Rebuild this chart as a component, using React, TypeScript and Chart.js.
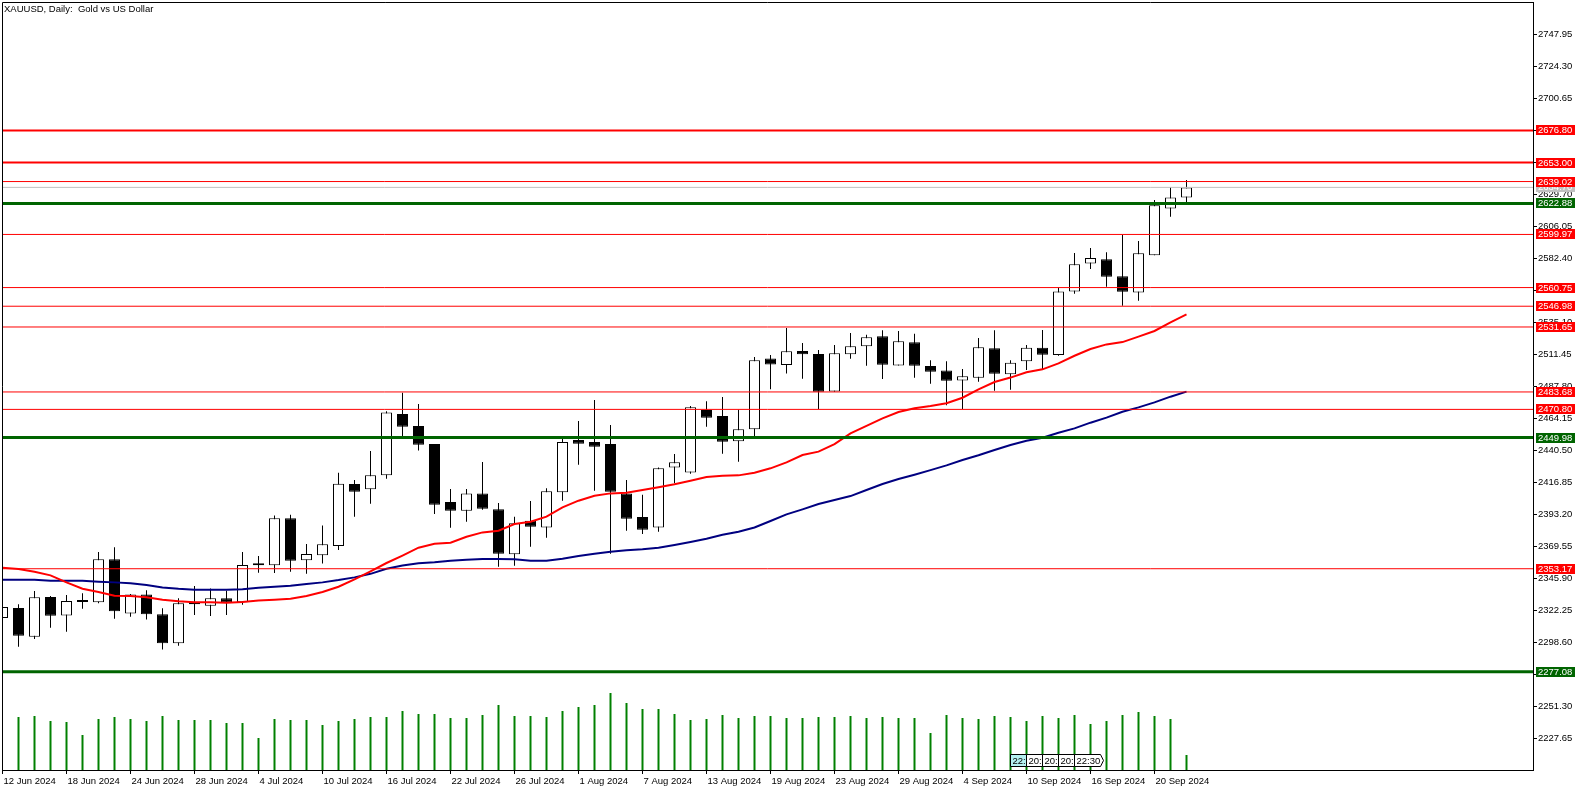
import React, { useEffect, useRef } from "react";
import { Chart, registerables } from "chart.js";

Chart.register(...registerables);

// ---------- data ----------
const dates = [
  "12 Jun", "13 Jun", "14 Jun", "17 Jun", "18 Jun", "19 Jun", "20 Jun", "21 Jun", "24 Jun", "25 Jun", "26 Jun", "27 Jun", "28 Jun",
  "1 Jul", "2 Jul", "3 Jul", "4 Jul", "5 Jul", "8 Jul", "9 Jul", "10 Jul", "11 Jul", "12 Jul", "15 Jul", "16 Jul", "17 Jul", "18 Jul", "19 Jul",
  "22 Jul", "23 Jul", "24 Jul", "25 Jul", "26 Jul", "29 Jul", "30 Jul", "31 Jul",
  "1 Aug", "2 Aug", "5 Aug", "6 Aug", "7 Aug", "8 Aug", "9 Aug", "12 Aug", "13 Aug", "14 Aug", "15 Aug", "16 Aug", "19 Aug", "20 Aug",
  "21 Aug", "22 Aug", "23 Aug", "26 Aug", "27 Aug", "28 Aug", "29 Aug", "30 Aug",
  "2 Sep", "3 Sep", "4 Sep", "5 Sep", "6 Sep", "9 Sep", "10 Sep", "11 Sep", "12 Sep", "13 Sep", "16 Sep", "17 Sep", "18 Sep", "19 Sep",
  "20 Sep", "23 Sep", "24 Sep",
];

const opens = [
  2316.8, 2324.1, 2303.0, 2332.3, 2318.7, 2328.6, 2328.4, 2360.2, 2320.2, 2334.2,
  2319.5, 2298.1, 2327.0, 2325.9, 2331.3, 2328.4, 2355.7, 2355.7, 2390.5, 2359.4,
  2363.1, 2370.0, 2415.7, 2411.8, 2422.1, 2467.4, 2458.5, 2445.2, 2402.4, 2396.0,
  2408.8, 2397.0, 2363.8, 2388.6, 2383.7, 2409.6, 2448.2, 2446.7, 2445.2, 2408.8,
  2391.3, 2383.7, 2428.0, 2424.3, 2470.3, 2465.9, 2447.2, 2456.1, 2508.3, 2503.6,
  2513.9, 2511.7, 2484.1, 2511.5, 2517.4, 2524.8, 2503.3, 2520.3, 2502.8, 2499.6,
  2492.2, 2494.2, 2515.9, 2496.7, 2506.3, 2516.3, 2511.0, 2557.9, 2578.6, 2581.6,
  2569.1, 2557.2, 2584.6, 2619.2, 2627.3,
];
const highs = [
  2328.0, 2327.0, 2336.7, 2333.0, 2333.8, 2335.0, 2365.5, 2369.0, 2334.5, 2337.2,
  2324.0, 2331.3, 2340.4, 2338.6, 2337.0, 2365.5, 2362.5, 2392.5, 2393.0, 2371.4,
  2385.0, 2424.0, 2418.6, 2440.0, 2469.4, 2483.1, 2474.8, 2445.2, 2412.0, 2412.0,
  2431.9, 2401.7, 2391.6, 2403.2, 2412.5, 2449.7, 2462.2, 2477.7, 2459.3, 2418.6,
  2407.8, 2428.0, 2437.8, 2473.3, 2476.9, 2479.9, 2470.6, 2509.5, 2510.9, 2530.9,
  2519.8, 2514.6, 2518.3, 2527.2, 2526.0, 2529.2, 2528.7, 2526.7, 2507.0, 2506.3,
  2500.6, 2523.5, 2529.2, 2507.0, 2518.3, 2529.4, 2560.7, 2586.2, 2589.9, 2586.8,
  2599.5, 2595.1, 2625.4, 2635.0, 2640.2,
];
const lows = [
  2313.0, 2295.6, 2301.3, 2309.6, 2306.6, 2323.6, 2327.6, 2316.3, 2317.7, 2315.6,
  2293.5, 2296.3, 2319.0, 2318.2, 2319.0, 2326.6, 2350.2, 2350.0, 2350.9, 2349.5,
  2357.0, 2367.0, 2391.6, 2401.1, 2419.6, 2451.1, 2440.5, 2393.6, 2383.4, 2387.9,
  2396.7, 2354.6, 2355.4, 2369.4, 2376.0, 2403.4, 2430.0, 2410.8, 2364.2, 2381.2,
  2378.8, 2380.5, 2416.2, 2423.3, 2458.0, 2438.1, 2432.2, 2450.6, 2485.6, 2497.4,
  2493.5, 2471.1, 2483.8, 2508.2, 2503.1, 2493.2, 2503.3, 2494.2, 2489.8, 2473.8,
  2471.1, 2491.2, 2484.6, 2485.3, 2499.9, 2500.7, 2510.4, 2556.2, 2574.4, 2561.4,
  2547.4, 2551.0, 2584.6, 2613.0, 2623.7,
];
const closes = [
  2324.9, 2303.7, 2332.1, 2318.5, 2329.3, 2329.4, 2360.2, 2321.7, 2334.2, 2319.5,
  2298.1, 2327.6, 2327.2, 2331.3, 2328.4, 2355.9, 2357.2, 2390.5, 2359.1, 2364.0,
  2371.2, 2416.0, 2410.0, 2422.1, 2468.6, 2458.0, 2444.7, 2400.4, 2396.0, 2408.8,
  2397.5, 2364.2, 2386.7, 2384.2, 2410.3, 2446.7, 2445.4, 2443.2, 2410.0, 2390.1,
  2382.0, 2427.3, 2431.7, 2472.3, 2464.6, 2447.0, 2456.1, 2507.0, 2503.9, 2513.7,
  2511.5, 2483.8, 2512.2, 2517.4, 2524.0, 2503.8, 2521.1, 2503.0, 2498.6, 2492.0,
  2495.2, 2516.6, 2497.1, 2505.3, 2516.3, 2511.2, 2557.9, 2577.9, 2582.6, 2568.8,
  2557.7, 2586.0, 2621.5, 2627.3, 2634.7,
];
// tick volume (thousands)
const volumes = [
  null, 53, 54, 49, 48, 35, 51, 53, 51, 49,
  54, 50, 50, 50, 47, 47, 32, 51, 50, 50,
  45, 49, 51, 53, 53, 59, 56, 56, 52, 52,
  55, 65, 54, 54, 53, 59, 63, 65, 77, 67,
  61, 61, 56, 50, 51, 55, 52, 54, 54, 52,
  52, 53, 53, 54, 52, 53, 52, 52, 37, 55,
  52, 51, 54, 53, 49, 54, 52, 55, 46, 49,
  55, 58, 54, 51, 15,
];
const maFast = [
  2353.9, 2352.9, 2350.9, 2348.3, 2343.1, 2338.4, 2336.0, 2333.2, 2333.0, 2332.1,
  2330.3, 2329.1, 2328.4, 2328.4, 2328.1, 2328.6, 2329.8, 2330.3, 2331.0, 2333.0,
  2336.0, 2339.9, 2345.3, 2351.3, 2357.4, 2362.9, 2368.7, 2371.6, 2372.4, 2376.8,
  2380.0, 2381.2, 2386.2, 2387.9, 2391.6, 2398.5, 2403.4, 2407.1, 2408.8, 2409.3,
  2411.3, 2413.3, 2415.5, 2418.1, 2420.9, 2421.8, 2422.1, 2424.0, 2427.3, 2431.7,
  2437.1, 2439.6, 2445.2, 2453.1, 2458.7, 2464.2, 2468.9, 2471.6, 2473.3, 2475.3,
  2479.4, 2485.6, 2491.0, 2494.3, 2498.2, 2500.4, 2504.8, 2510.4, 2515.4, 2518.8,
  2520.5, 2524.5, 2528.7, 2535.1, 2541.0,
];
const maSlow = [
  2345.0, 2345.0, 2345.0, 2344.3, 2344.3, 2344.3, 2343.6, 2343.1, 2342.4, 2341.1,
  2339.4, 2338.4, 2337.7, 2337.7, 2337.7, 2338.0, 2339.1, 2339.9, 2340.6, 2341.9,
  2343.1, 2344.8, 2346.8, 2349.4, 2353.1, 2355.5, 2357.2, 2357.9, 2359.1, 2359.8,
  2360.3, 2360.3, 2360.1, 2359.1, 2359.1, 2360.6, 2362.5, 2364.2, 2365.7, 2366.8,
  2367.5, 2368.7, 2370.7, 2372.9, 2375.3, 2378.3, 2380.5, 2383.6, 2388.4, 2393.3,
  2397.0, 2400.9, 2403.9, 2406.8, 2411.3, 2415.7, 2419.4, 2422.6, 2426.0, 2429.5,
  2433.4, 2436.9, 2440.8, 2444.5, 2447.7, 2449.9, 2453.6, 2456.8, 2461.0, 2464.7,
  2469.1, 2472.3, 2476.0, 2480.2, 2483.9,
];

const thickRedLevels = [2676.8, 2653.0];
const thinRedLevels = [2639.02, 2599.97, 2560.75, 2546.98, 2531.65, 2483.68, 2470.8, 2353.17];
const greenLevels = [2622.88, 2449.98, 2277.08];
const bidPrice = 2634.7;

const yTickLabels = [
  "2747.95", "2724.30", "2700.65", "2677.00", "2653.35", "2629.70", "2606.05", "2582.40",
  "2558.75", "2535.10", "2511.45", "2487.80", "2464.15", "2440.50", "2416.85", "2393.20",
  "2369.55", "2345.90", "2322.25", "2298.60", "2274.95", "2251.30", "2227.65",
];
const xTickIndex = [0, 4, 8, 12, 16, 20, 24, 28, 32, 36, 40, 44, 48, 52, 56, 60, 64, 68, 72];
const timeMarks = ["22:", "20:", "20:", "20:", "22:30"];
const timeMarkStart = 63;
const title = "XAUUSD, Daily:  Gold vs US Dollar";

// ---------- view constants ----------
const W = 1586;
const H = 791;
const X_MIN = -0.03125;
const X_MAX = 95.65625;
const Y_MIN = 2204.58;
const Y_MAX = 2771.58;
const FONT_FAMILY = "'Liberation Sans', Arial, sans-serif";
const FONT_SIZE = 9.5;
const RED = "#ff0000";
const GREEN = "#006400";

export default function App() {
  const ref = useRef<HTMLCanvasElement | null>(null);

  useEffect(() => {
    document.body.style.margin = "0";
    const canvas = ref.current;
    if (!canvas) return;

    const idx = dates.map((_, i) => i);
    const bodyColors = idx.map((i) => (closes[i] >= opens[i] ? "#ffffff" : "#000000"));

    const levelLine = (v: number, color: string, width: number, order: number) => ({
      type: "line" as const,
      data: [
        { x: X_MIN, y: v },
        { x: X_MAX, y: v },
      ],
      borderColor: color,
      borderWidth: width,
      pointRadius: 0,
      yAxisID: "y",
      order,
    });

    const overlay = {
      id: "overlay",
      afterDraw(chart: any) {
        const { ctx, chartArea, scales } = chart;
        const ys = scales.y;
        const xs = scales.x;
        ctx.save();
        // frame (left / top)
        ctx.strokeStyle = "#000";
        ctx.lineWidth = 1;
        ctx.beginPath();
        ctx.moveTo(chartArea.left + 0.5, chartArea.bottom);
        ctx.lineTo(chartArea.left + 0.5, chartArea.top + 0.5);
        ctx.lineTo(chartArea.right, chartArea.top + 0.5);
        ctx.stroke();

        ctx.font = `${FONT_SIZE}px ${FONT_FAMILY}`;
        // title
        ctx.fillStyle = "#000";
        ctx.textAlign = "left";
        ctx.textBaseline = "alphabetic";
        ctx.fillText(title, chartArea.left + 2, 12);

        // price tags
        const tag = (v: number, bg: string) => {
          const py = Math.round(ys.getPixelForValue(v));
          ctx.fillStyle = bg;
          ctx.fillRect(chartArea.right + 3, py - 5, 39, 10);
          ctx.fillStyle = "#fff";
          ctx.textBaseline = "middle";
          ctx.fillText(v.toFixed(2), chartArea.right + 5, py + 0.5);
        };
        tag(bidPrice, "#c0c0c0");
        thickRedLevels.forEach((v) => tag(v, RED));
        thinRedLevels.forEach((v) => tag(v, RED));
        greenLevels.forEach((v) => tag(v, GREEN));

        // time marks
        const top = chartArea.bottom - 16;
        const h = 12;
        timeMarks.forEach((t, k) => {
          const x0 = Math.round(xs.getPixelForValue(timeMarkStart + k)) - 0.5;
          const last = k === timeMarks.length - 1;
          const w = last ? 26 : 16;
          ctx.beginPath();
          ctx.moveTo(x0, top + 0.5);
          ctx.lineTo(x0 + w, top + 0.5);
          if (last) ctx.lineTo(x0 + w + 3, top + 0.5 + h / 2);
          ctx.lineTo(x0 + w, top + 0.5 + h);
          ctx.lineTo(x0, top + 0.5 + h);
          ctx.closePath();
          ctx.fillStyle = k === 0 ? "#b4f0f0" : "#ffffff";
          ctx.fill();
          ctx.strokeStyle = "#000";
          ctx.stroke();
          ctx.fillStyle = "#000";
          ctx.textBaseline = "middle";
          ctx.fillText(t, x0 + 2, top + 0.5 + h / 2 + 0.5);
        });
        ctx.restore();
      },
    };

    const zeroPad = (scale: any) => {
      scale.paddingTop = 0;
      scale.paddingBottom = 0;
      scale.paddingLeft = 0;
      scale.paddingRight = 0;
    };

    const chart = new Chart(canvas, {
      type: "bar",
      data: {
        datasets: [
          {
            type: "bar",
            label: "Volume",
            data: idx.map((i) => ({ x: i, y: volumes[i] })),
            backgroundColor: "#008000",
            barThickness: 2,
            grouped: false,
            inflateAmount: 0,
            yAxisID: "yVol",
            order: 20,
          } as any,
          {
            type: "bar",
            label: "Wicks",
            data: idx.map((i) => ({ x: i, y: [lows[i], highs[i]] })),
            backgroundColor: "#000000",
            barThickness: 1,
            grouped: false,
            inflateAmount: 0,
            yAxisID: "y",
            order: 19,
          } as any,
          {
            type: "bar",
            label: "Bodies",
            data: idx.map((i) => ({ x: i, y: [opens[i], closes[i]] })),
            backgroundColor: bodyColors,
            borderColor: "#000000",
            borderWidth: 1,
            borderSkipped: false,
            barThickness: 11,
            minBarLength: 2,
            grouped: false,
            inflateAmount: 0,
            yAxisID: "y",
            order: 18,
          } as any,
          {
            type: "line",
            label: "MA slow",
            data: idx.map((i) => ({ x: i, y: maSlow[i] })),
            borderColor: "#000080",
            borderWidth: 2,
            pointRadius: 0,
            tension: 0,
            yAxisID: "y",
            order: 17,
          } as any,
          {
            type: "line",
            label: "MA fast",
            data: idx.map((i) => ({ x: i, y: maFast[i] })),
            borderColor: RED,
            borderWidth: 2,
            pointRadius: 0,
            tension: 0,
            yAxisID: "y",
            order: 16,
          } as any,
          levelLine(bidPrice, "#c0c0c0", 1, 10) as any,
          ...thinRedLevels.map((v) => levelLine(v, RED, 1, 9) as any),
          ...thickRedLevels.map((v) => levelLine(v, RED, 2, 8) as any),
          ...greenLevels.map((v) => levelLine(v, GREEN, 3, 7) as any),
        ],
      },
      options: {
        responsive: false,
        animation: false,
        devicePixelRatio: 1,
        events: [],
        layout: { padding: { left: 2, top: 2, right: 0, bottom: 0 } },
        plugins: { legend: { display: false }, tooltip: { enabled: false }, title: { display: false } },
        scales: {
          x: {
            type: "linear",
            position: "bottom",
            min: X_MIN,
            max: X_MAX,
            offset: false,
            grid: { drawOnChartArea: false, drawTicks: true, tickLength: 4, color: "#000", offset: false },
            border: { color: "#000", width: 1 },
            afterBuildTicks: (scale: any) => {
              scale.ticks = xTickIndex.map((v) => ({ value: v }));
            },
            afterFit: (scale: any) => {
              scale.height = 21;
              zeroPad(scale);
            },
            ticks: {
              autoSkip: false,
              maxRotation: 0,
              minRotation: 0,
              align: "start",
              labelOffset: 1,
              padding: 2,
              color: "#000",
              font: { family: FONT_FAMILY, size: FONT_SIZE },
              callback: (v: any) => `${dates[Math.round(Number(v))]} 2024`,
            },
          },
          y: {
            type: "linear",
            position: "right",
            min: Y_MIN,
            max: Y_MAX,
            grid: { drawOnChartArea: false, drawTicks: true, tickLength: 4, color: "#000" },
            border: { color: "#000", width: 1 },
            afterBuildTicks: (scale: any) => {
              scale.ticks = yTickLabels.map((s) => ({ value: parseFloat(s) }));
            },
            afterFit: (scale: any) => {
              scale.width = 53;
              zeroPad(scale);
            },
            ticks: {
              autoSkip: false,
              padding: 1,
              color: "#000",
              font: { family: FONT_FAMILY, size: FONT_SIZE },
              callback: (v: any) => Number(v).toFixed(2),
            },
          },
          yVol: {
            type: "linear",
            display: false,
            min: 0,
            max: 768,
          },
        },
      } as any,
      plugins: [overlay],
    });

    return () => chart.destroy();
  }, []);

  return (
    <div style={{ position: "absolute", left: 0, top: 0, width: W, height: H, background: "#fff" }}>
      <canvas ref={ref} width={W} height={H} style={{ display: "block", width: W, height: H }} />
    </div>
  );
}
